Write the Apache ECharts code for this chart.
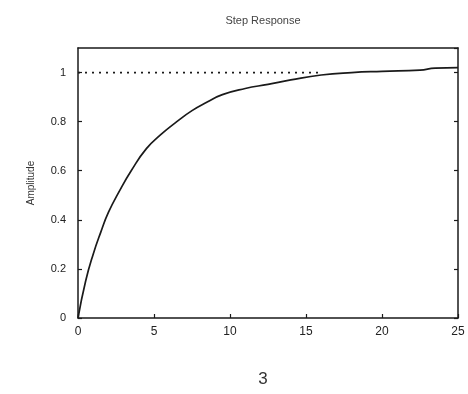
<!DOCTYPE html>
<html>
<head>
<meta charset="utf-8">
<style>
  html, body { margin: 0; padding: 0; background: #ffffff; }
  #chart { width: 468px; height: 394px; }
</style>
<script src="https://cdn.jsdelivr.net/npm/echarts@6/dist/echarts.min.js"></script>
</head>
<body>
<div id="chart"></div>
<script>
// Step response samples: time (s) and amplitude
const timeValues = [0, 0.5, 1, 1.5, 2, 2.75, 3.5, 4.5, 5.5, 6.5, 7.5, 8.5, 9.5, 11, 12.5, 14, 16, 18, 20, 22.5, 23.5, 25];
const amplitudeValues = [0, 0.15, 0.26, 0.35, 0.43, 0.52, 0.60, 0.69, 0.75, 0.80, 0.845, 0.88, 0.91, 0.935, 0.952, 0.97, 0.99, 1.0, 1.005, 1.01, 1.018, 1.02];

// Steady-state reference level
const steadyTime = [0, 16];
const steadyValue = [1, 1];

const xTicks = [0, 5, 10, 15, 20, 25];
const yTicks = [0, 0.2, 0.4, 0.6, 0.8, 1];

const titleText = 'Step Response';
const yAxisTitle = 'Amplitude';
const figureNumber = '3';

const ink = '#1a1a1a';
const chart = echarts.init(document.getElementById('chart'), null, { renderer: 'canvas' });

const fmtY = v => {
  const r = Math.round(v * 10) / 10;
  return yTicks.some(t => Math.abs(t - r) < 1e-9) && Math.abs(v - r) < 1e-6 ? String(r) : '';
};
const fmtX = v => (xTicks.indexOf(v) >= 0 ? String(v) : '');

const boxAxis = {
  axisLine: { show: true, onZero: false, lineStyle: { color: ink, width: 1.5 } },
  splitLine: { show: false }
};

chart.setOption({
  animation: false,
  backgroundColor: '#ffffff',
  title: [
    { text: titleText, left: 258, top: 10, textAlign: 'center',
      textStyle: { fontFamily: 'Liberation Sans', fontSize: 11, fontWeight: 'normal', color: '#444' } },
    { text: figureNumber, left: 258, top: 366, textAlign: 'center',
      textStyle: { fontFamily: 'Liberation Sans', fontSize: 17, fontWeight: 'normal', color: '#333' } }
  ],
  grid: { left: 78, right: 10, top: 48, bottom: 76, containLabel: false },
  xAxis: [
    Object.assign({}, boxAxis, {
      type: 'value', min: 0, max: 25, interval: 5,
      axisTick: { show: true, inside: true, length: 4, lineStyle: { color: ink, width: 1.2 } },
      axisLabel: { color: '#222', fontFamily: 'Liberation Sans', fontSize: 12, margin: 8, formatter: fmtX }
    }),
    Object.assign({}, boxAxis, {
      type: 'value', min: 0, max: 25, interval: 5, position: 'top',
      axisTick: { show: false }, axisLabel: { show: false }
    })
  ],
  yAxis: [
    Object.assign({}, boxAxis, {
      type: 'value', min: 0, max: 1.1, interval: 0.2,
      name: yAxisTitle, nameLocation: 'middle', nameGap: 42, nameRotate: 90,
      nameTextStyle: { color: '#333', fontFamily: 'Liberation Sans', fontSize: 10 },
      axisTick: { show: true, inside: true, length: 4, lineStyle: { color: ink, width: 1.2 } },
      axisLabel: { color: '#222', fontFamily: 'Liberation Sans', fontSize: 11, margin: 12, formatter: fmtY, showMaxLabel: false }
    }),
    Object.assign({}, boxAxis, {
      type: 'value', min: 0, max: 1.1, interval: 0.2, position: 'right',
      axisTick: { show: true, inside: true, length: 4, lineStyle: { color: ink, width: 1.2 } },
      axisLabel: { show: false }
    })
  ],
  series: [
    {
      name: 'steady', type: 'line', xAxisIndex: 0, yAxisIndex: 0,
      data: steadyTime.map((t, i) => [t, steadyValue[i]]),
      showSymbol: false, silent: true,
      lineStyle: { color: ink, width: 1.8, type: [2, 5] }
    },
    {
      name: 'response', type: 'line', xAxisIndex: 0, yAxisIndex: 0,
      data: timeValues.map((t, i) => [t, amplitudeValues[i]]),
      smooth: 0.5, showSymbol: false, silent: true,
      lineStyle: { color: ink, width: 1.7 }
    }
  ]
});
</script>
</body>
</html>
